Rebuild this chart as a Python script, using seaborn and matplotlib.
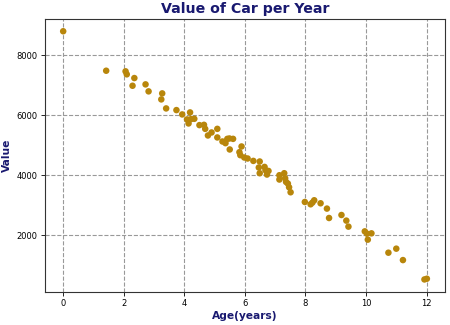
import matplotlib
matplotlib.use("Agg")
import matplotlib.pyplot as plt
import seaborn as sns
import pandas as pd

age = [0.0, 1.42, 2.06, 2.10, 2.35, 2.29, 2.72, 2.82, 3.27, 3.24, 3.40, 3.74,
       3.93, 4.19, 4.09, 4.22, 4.33, 4.14, 4.50, 4.65, 4.69, 4.90, 4.78, 5.09,
       5.09, 5.26, 5.36, 5.42, 5.49, 5.61, 5.50, 5.89, 5.82, 5.85, 5.98, 6.09,
       6.28, 6.49, 6.46, 6.49, 6.65, 6.68, 6.78, 6.73, 7.14, 7.14, 7.30, 7.33,
       7.36, 7.42, 7.46, 7.51, 7.98, 8.17, 8.23, 8.29, 8.50, 8.71, 8.78, 9.19,
       9.35, 9.42, 9.96, 10.03, 10.18, 10.06, 10.74, 11.00, 11.22, 11.93, 12.01]
value = [8790, 7477, 7457, 7357, 7233, 6977, 7023, 6790, 6723, 6523, 6223, 6167,
         6023, 6090, 5857, 5867, 5877, 5723, 5667, 5677, 5543, 5423, 5323, 5543,
         5257, 5123, 5067, 5210, 5223, 5210, 4857, 4957, 4767, 4667, 4590, 4557,
         4477, 4457, 4257, 4067, 4277, 4167, 4143, 4023, 4000, 3857, 4067, 3900,
         3777, 3723, 3600, 3433, 3110, 3033, 3090, 3167, 3067, 2890, 2577, 2677,
         2490, 2290, 2133, 2057, 2067, 1857, 1423, 1557, 1177, 533, 557]

df = pd.DataFrame({"Age": age, "Value": value})

fig = plt.figure(figsize=(4.5, 3.25), dpi=100)
ax = fig.add_axes([0.1, 0.102, 0.889, 0.84])
sns.scatterplot(data=df, x="Age", y="Value", ax=ax, color="#B8860B",
                s=22, edgecolor="none", linewidth=0, zorder=3)
ax.grid(True, linestyle="--", color="#999999", linewidth=0.8)
ax.set_axisbelow(True)
navy = "#191970"
ax.set_title("Value of Car per Year", fontsize=10.2, fontweight="bold", color=navy, pad=4)
ax.set_xlabel("Age(years)", fontsize=7.7, fontweight="bold", color=navy, labelpad=2)
ax.set_ylabel("Value", fontsize=7.7, fontweight="bold", color=navy, labelpad=3)
ax.set_xticks([0, 2, 4, 6, 8, 10, 12])
ax.set_yticks([2000, 4000, 6000, 8000])
ax.tick_params(labelsize=6, length=3, width=0.6, pad=2.5)
for sp in ax.spines.values():
    sp.set_color("#333333")
    sp.set_linewidth(0.8)
fig.savefig("out.png", dpi=100)
